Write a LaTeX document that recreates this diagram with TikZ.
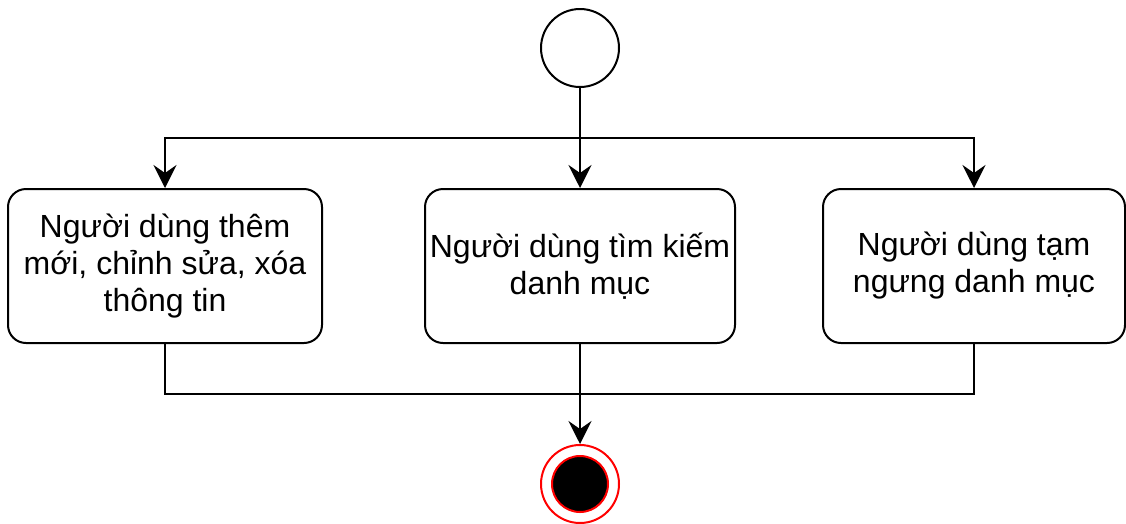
\documentclass[tikz,border=0pt]{standalone}
\usepackage{fontspec}
\setmainfont{Liberation Sans}
\usetikzlibrary{arrows.meta}
\begin{document}
\begin{tikzpicture}[x=1pt,y=-1pt,line width=2pt,
  act/.style={draw, rounded corners=18pt, minimum height=154pt, align=center,
    font=\fontsize{32}{37}\selectfont, inner sep=0pt},
  arr/.style={-{Stealth[length=23pt,width=23pt,inset=8pt]}},
  startnode/.style={circle, draw, fill=white, minimum size=78pt, inner sep=0pt},
  endouter/.style={circle, draw=red, fill=white, minimum size=78pt, inner sep=0pt},
  endinner/.style={circle, draw=red, fill=black, minimum size=56pt, inner sep=0pt}]
\path[use as bounding box] (0,0) rectangle (1126,523);
\node[startnode] (start) at (580,48) {};
\node[act, minimum width=314pt] (lt) at (165,266) {Người dùng thêm\\mới, chỉnh sửa, xóa\\thông tin};
\node[act, minimum width=310pt] (mid) at (580,266) {Người dùng tìm kiếm\\danh mục};
\node[act, minimum width=302pt] (rt) at (974,266) {Người dùng tạm\\ngưng danh mục};
\node[endouter] (endo) at (580,484) {};
\node[endinner] (endi) at (580,484) {};
\coordinate (j) at (580,138);
\coordinate (b) at (580,394);
\draw (start) -- (j);
\draw[arr] (j) -- (mid.north);
\draw[arr] (j) -| (lt.north);
\draw[arr] (j) -| (rt.north);
\draw (lt.south) |- (b) -| (rt.south);
\draw[arr] (mid.south) -- (endo.north);
\end{tikzpicture}
\end{document}
